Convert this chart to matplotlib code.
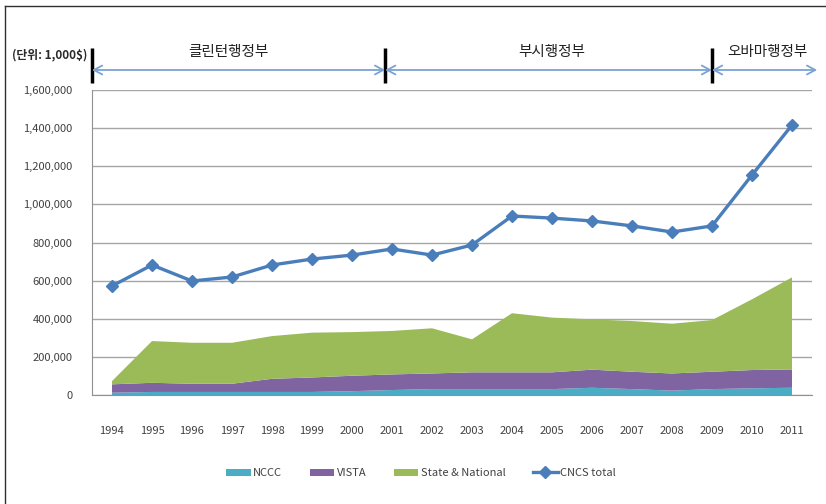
import matplotlib
matplotlib.use("Agg")
import matplotlib.pyplot as plt
from matplotlib.lines import Line2D
import matplotlib.transforms as mtransforms

plt.rcParams['font.family'] = ['Noto Sans CJK KR', 'DejaVu Sans']

years = list(range(1994, 2012))
# values in 1,000$
nccc = [12, 16, 16, 16, 16, 16, 20, 26, 31, 31, 31, 31, 38, 31, 23, 31, 35, 38]
nccc = [v * 1000 for v in nccc]
vista = [44, 48, 43, 43, 69, 76, 81, 82, 82, 88, 88, 88, 95, 91, 90, 91, 96, 96]
vista = [v * 1000 for v in vista]
state = [17, 219, 215, 215, 224, 235, 229, 228, 237, 173, 310, 287, 264, 266, 261, 271, 371, 483]
state = [v * 1000 for v in state]
cncs_total = [572, 682, 598, 619, 682, 713, 734, 766, 734, 787, 939, 928, 913, 887, 855, 887, 1154, 1416]
cncs_total = [v * 1000 for v in cncs_total]

series_names = ['NCCC', 'VISTA', 'State & National']
line_name = 'CNCS total'
eras = ['클린턴행정부', '부시행정부', '오바마행정부']
era_bounds = [1993.5, 2000.83, 2009.0, 2011.63]
era_label_x = [1996.9, 2004.98, 2010.38]
unit_label = '(단위: 1,000$)'

colors = ['#4bacc6', '#8064a2', '#9bbb59']
line_color = '#4a7ebb'
text_color = '#404040'

fig = plt.figure(figsize=(8.26, 5.04), dpi=100)
ax = fig.add_axes([92 / 826, 1 - 395 / 504, (812 - 92) / 826, 305 / 504])

ax.stackplot(years, nccc, vista, state, colors=colors, labels=series_names, linewidth=0)
ax.plot(years, cncs_total, color=line_color, lw=2.4, marker='D', markersize=6.5,
        label=line_name, zorder=5)

ax.set_xlim(1993.5, 2011.5)
ax.set_ylim(0, 1600000)
ax.set_yticks(range(0, 1600001, 200000))
ax.set_yticklabels([f'{v:,}' for v in range(0, 1600001, 200000)])
ax.set_xticks(years)
ax.set_xticklabels([str(y) for y in years])
ax.yaxis.grid(True, color='#a6a6a6', lw=1)
ax.set_axisbelow(True)
for s in ['top', 'right']:
    ax.spines[s].set_visible(False)
ax.spines['left'].set_color('#909090')
ax.spines['bottom'].set_color('#909090')
ax.tick_params(axis='y', length=0, pad=14, labelsize=8, labelcolor=text_color)
ax.tick_params(axis='x', length=0, pad=22, labelsize=8, labelcolor=text_color)

# era annotations above the plot
trans = mtransforms.blended_transform_factory(ax.transData, ax.transAxes)
arrow_y = (395 - 70) / 305
for i, name in enumerate(eras):
    x0, x1 = era_bounds[i], era_bounds[i + 1]
    ax.annotate('', xy=(x1, arrow_y), xytext=(x0, arrow_y), xycoords=trans, textcoords=trans,
                arrowprops=dict(arrowstyle='<->, head_length=0.6, head_width=0.32',
                                color='#7aa3d4', lw=1.3, shrinkA=0, shrinkB=0),
                annotation_clip=False)
    ax.text(era_label_x[i], (395 - 52) / 305, name, transform=trans,
            ha='center', va='center', fontsize=10.5, color='#202020', clip_on=False)
for xb in era_bounds[:3]:
    ax.plot([xb, xb], [(395 - 83) / 305, (395 - 48) / 305], transform=trans, color='black',
            lw=2.5, clip_on=False, solid_capstyle='butt')

fig.text(50 / 826, 1 - 55 / 504, unit_label, ha='center', va='center', fontsize=8.5,
         color='#2a2a2a', fontweight='semibold')

# outer chart frame (left and top edges)
fig.add_artist(Line2D([5 / 826, 5 / 826], [0, 1 - 6 / 504], transform=fig.transFigure,
                      color='#303030', lw=1))
fig.add_artist(Line2D([5 / 826, 1], [1 - 6 / 504, 1 - 6 / 504], transform=fig.transFigure,
                      color='#303030', lw=1))

handles, labels = ax.get_legend_handles_labels()
fig.legend(handles, labels, loc='center',
           bbox_to_anchor=(421 / 826, 31 / 504), ncol=4, frameon=False, fontsize=8,
           handlelength=2.2, handleheight=0.6, columnspacing=2.5, handletextpad=0.2,
           labelcolor=text_color)

fig.savefig('out.png', dpi=100)
